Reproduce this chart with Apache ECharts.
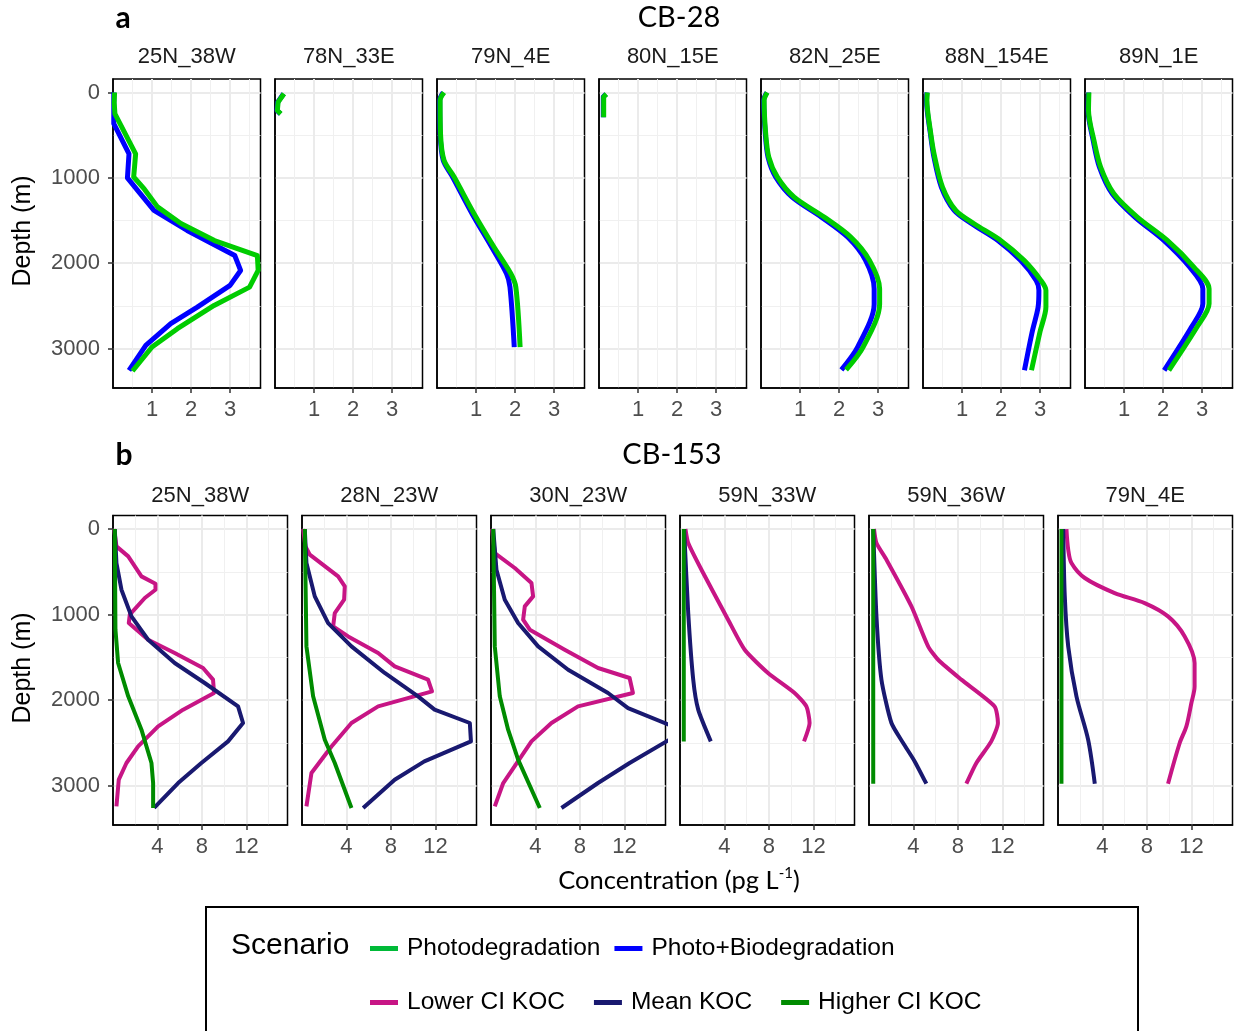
<!DOCTYPE html>
<html>
<head>
<meta charset="utf-8">
<script src="https://cdn.jsdelivr.net/npm/echarts@6/dist/echarts.min.js"></script>
<style>
  html, body { margin: 0; padding: 0; background: #fff; }
  #chart { width: 1236px; height: 1031px; }
</style>
</head>
<body>
<div id="chart"></div>
<script>
  // tick labels
  const ticksA = [1, 2, 3]
  const minorA = [0.5, 1.5, 2.5, 3.5]
  const ticksB = [4, 8, 12]
  const minorB = [2, 6, 10, 14]
  const depthTicks = [0, 1000, 2000, 3000]
  const depthMinor = [500, 1500, 2500]

  // CB-28 profiles, each point is [concentration pg/L, depth m]
  const cb28_25N38W_photo = [[0.04,0],[0.03,120],[0.05,250],[0.58,720],[0.53,990],[0.8,1130],[1.14,1340],[1.74,1535],[2.6,1735],[3.7,1910],[3.72,2085],[3.5,2280],[2.59,2495],[1.65,2767],[1.0,2982],[0.5,3263]]
  const cb28_25N38W_bio = [[0.02,0],[0.02,366],[0.41,718],[0.37,1000],[0.63,1147],[1.05,1382],[1.9,1616],[3.12,1910],[3.27,2085],[3.0,2260],[2.16,2514],[1.48,2709],[0.84,2963],[0.41,3255]]
  const cb28_78N33E_photo = [[0.23,15],[0.08,113],[0.06,211],[0.15,250]]
  const cb28_78N33E_bio = [[0.22,15],[0.07,113],[0.05,211],[0.14,250]]
  const cb28_79N4E_photo = [[0.18,0],[0.08,90],[0.09,480],[0.18,795],[0.44,990],[0.95,1420],[1.46,1810],[1.89,2120],[2.02,2280],[2.13,2982]]
  const cb28_79N4E_bio = [[0.16,0],[0.07,90],[0.08,480],[0.16,795],[0.4,990],[0.9,1420],[1.4,1810],[1.78,2120],[1.87,2280],[1.98,2982]]
  const cb28_80N15E_photo = [[0.19,20],[0.12,50],[0.12,290]]
  const cb28_80N15E_bio = [[0.18,20],[0.11,50],[0.11,290]]
  const cb28_82N25E_photo = [[0.16,0],[0.08,90],[0.12,480],[0.2,757],[0.42,992],[0.85,1226],[1.62,1460],[2.3,1694],[2.78,1967],[3.04,2300],[3.04,2480],[2.62,2980],[2.18,3250]]
  const cb28_82N25E_bio = [[0.15,0],[0.07,90],[0.11,480],[0.18,757],[0.38,992],[0.8,1226],[1.55,1460],[2.22,1694],[2.68,1967],[2.9,2300],[2.9,2480],[2.48,2980],[2.06,3250]]
  const cb28_88N154E_photo = [[0.11,0],[0.1,90],[0.2,484],[0.3,757],[0.5,1108],[0.84,1382],[1.31,1538],[1.99,1733],[2.59,1967],[3.02,2201],[3.15,2318],[3.15,2514],[3.0,2800],[2.78,3255]]
  const cb28_88N154E_bio = [[0.1,0],[0.09,90],[0.19,484],[0.28,757],[0.47,1108],[0.8,1382],[1.25,1538],[1.92,1733],[2.5,1967],[2.9,2201],[2.97,2318],[2.95,2514],[2.8,2800],[2.6,3255]]
  const cb28_89N1E_photo = [[0.1,0],[0.09,210],[0.23,562],[0.4,874],[0.74,1187],[1.34,1460],[2.11,1733],[2.79,2045],[3.18,2300],[3.18,2475],[2.87,2748],[2.15,3255]]
  const cb28_89N1E_bio = [[0.09,0],[0.08,210],[0.21,562],[0.37,874],[0.7,1187],[1.28,1460],[2.02,1733],[2.68,2045],[3.02,2300],[3.02,2475],[2.73,2748],[2.03,3255]]

  // CB-153 profiles, [concentration pg/L, depth m]
  const cb153_25N38W_lower = [[0.1,0],[0.31,203],[1.37,320],[2.56,554],[3.82,640],[3.82,710],[2.86,807],[1.51,1002],[1.42,1100],[3.16,1295],[5.55,1450],[8.1,1626],[9.0,1762],[9.09,1918],[6.31,2113],[4.06,2309],[2.26,2543],[1.21,2737],[0.52,2932],[0.31,3244]]
  const cb153_25N38W_mean = [[0.16,0],[0.31,398],[0.76,710],[1.66,1022],[3.16,1295],[5.55,1567],[8.25,1801],[11.25,2075],[11.7,2269],[10.35,2484],[7.95,2737],[5.86,2971],[3.7,3263]]
  const cb153_25N38W_higher = [[0.16,0],[0.22,1178],[0.46,1567],[1.37,1957],[2.56,2347],[3.46,2737],[3.61,2971],[3.61,3263]]
  const cb153_28N23W_lower = [[0.1,0],[0.31,203],[0.7,300],[3.25,554],[3.85,671],[3.79,827],[2.95,983],[2.8,1139],[4.15,1256],[6.85,1450],[8.34,1607],[11.34,1762],[11.7,1899],[6.85,2075],[4.45,2269],[2.65,2543],[0.85,2854],[0.4,3244]]
  const cb153_28N23W_mean = [[0.25,0],[0.4,398],[1.15,788],[2.35,1100],[4.45,1373],[7.44,1684],[10.44,1957],[11.93,2113],[15.1,2269],[15.2,2484],[11.01,2718],[8.34,2932],[5.5,3263]]
  const cb153_28N23W_higher = [[0.25,0],[0.4,1373],[1.0,1957],[2.05,2464],[2.95,2737],[4.45,3263]]
  const cb153_30N23W_lower = [[0.1,0],[0.34,281],[2.14,456],[3.64,632],[3.79,788],[3.04,905],[2.89,1061],[3.49,1178],[6.63,1412],[9.63,1626],[12.47,1743],[12.77,1918],[7.83,2075],[5.44,2269],[3.64,2484],[1.1,2971],[0.34,3244]]
  const cb153_30N23W_mean = [[0.2,0],[0.49,476],[1.24,827],[2.44,1100],[4.24,1373],[6.94,1646],[10.53,1918],[12.33,2094],[16.2,2300],[16.1,2460],[12.47,2737],[9.63,2971],[6.34,3263]]
  const cb153_30N23W_higher = [[0.2,0],[0.34,1373],[0.79,1957],[1.54,2347],[2.44,2698],[4.39,3263]]
  const cb153_59N33W_lower = [[0.49,0],[0.74,164],[1.93,476],[4.33,1061],[5.82,1412],[7.92,1684],[10.31,1918],[11.37,2075],[11.66,2269],[11.16,2484]]
  const cb153_59N33W_mean = [[0.37,0],[0.74,983],[1.19,1762],[1.64,2113],[2.77,2484]]
  const cb153_59N33W_higher = [[0.34,0],[0.34,2484]]
  const cb153_59N36W_lower = [[0.45,0],[0.67,164],[1.57,359],[3.82,905],[5.32,1373],[6.22,1529],[8.31,1762],[11.3,2075],[11.6,2269],[11.0,2484],[9.66,2737],[8.76,2979]]
  const cb153_59N36W_mean = [[0.38,0],[0.67,1022],[1.12,1762],[2.02,2269],[3.07,2503],[4.11,2718],[5.16,2979]]
  const cb153_59N36W_higher = [[0.38,0],[0.38,2979]]
  const cb153_79N4E_lower = [[0.76,0],[0.92,242],[1.21,398],[2.41,573],[5.1,749],[7.8,866],[9.9,1022],[11.4,1256],[12.29,1567],[12.29,1841],[12.0,2035],[11.55,2309],[10.95,2503],[9.9,2979]]
  const cb153_79N4E_mean = [[0.47,0],[0.61,788],[0.92,1373],[1.66,1957],[2.71,2464],[3.31,2979]]
  const cb153_79N4E_higher = [[0.31,0],[0.31,2979]]

  const panelsA = [
    { name: '25N_38W', photo: cb28_25N38W_photo, bio: cb28_25N38W_bio, smooth: false },
    { name: '78N_33E', photo: cb28_78N33E_photo, bio: cb28_78N33E_bio, smooth: false },
    { name: '79N_4E', photo: cb28_79N4E_photo, bio: cb28_79N4E_bio, smooth: 0.3 },
    { name: '80N_15E', photo: cb28_80N15E_photo, bio: cb28_80N15E_bio, smooth: false },
    { name: '82N_25E', photo: cb28_82N25E_photo, bio: cb28_82N25E_bio, smooth: 0.3 },
    { name: '88N_154E', photo: cb28_88N154E_photo, bio: cb28_88N154E_bio, smooth: 0.3 },
    { name: '89N_1E', photo: cb28_89N1E_photo, bio: cb28_89N1E_bio, smooth: 0.3 }
  ]
  const panelsB = [
    { name: '25N_38W', lower: cb153_25N38W_lower, mean: cb153_25N38W_mean, higher: cb153_25N38W_higher, smooth: false },
    { name: '28N_23W', lower: cb153_28N23W_lower, mean: cb153_28N23W_mean, higher: cb153_28N23W_higher, smooth: false },
    { name: '30N_23W', lower: cb153_30N23W_lower, mean: cb153_30N23W_mean, higher: cb153_30N23W_higher, smooth: false },
    { name: '59N_33W', lower: cb153_59N33W_lower, mean: cb153_59N33W_mean, higher: cb153_59N33W_higher, smooth: 0.2 },
    { name: '59N_36W', lower: cb153_59N36W_lower, mean: cb153_59N36W_mean, higher: cb153_59N36W_higher, smooth: 0.2 },
    { name: '79N_4E', lower: cb153_79N4E_lower, mean: cb153_79N4E_mean, higher: cb153_79N4E_higher, smooth: 0.3 }
  ]

  const FONT = '"Liberation Sans", Arial, Helvetica, sans-serif'
  const TITLE_FONT = 'Lato, "Open Sans", sans-serif'
  const COLORS = {
    photo: '#00CC00', bio: '#0000FF',
    lower: '#C71585', mean: '#191970', higher: '#008B00'
  }

  const grids = [], xAxes = [], yAxes = [], series = [], graphics = []

  function addPanel(left, top, width, height, xMax, xTicks, xMinor, showY) {
    const gi = grids.length
    grids.push({ left, top, width, height, show: true, borderColor: '#000', borderWidth: 1.5, backgroundColor: '#fff' })
    // minor grid
    xAxes.push({
      type: 'value', gridIndex: gi, position: 'top', min: 0, max: xMax,
      axisLine: { show: false, onZero: false }, axisLabel: { show: false },
      axisTick: { show: false, customValues: xMinor },
      splitLine: { show: true, lineStyle: { color: '#F0F0F0', width: 1 } }
    })
    yAxes.push({
      type: 'value', gridIndex: gi, position: 'right', inverse: true, min: -158, max: 3462,
      axisLine: { show: false, onZero: false }, axisLabel: { show: false },
      axisTick: { show: false, customValues: depthMinor },
      splitLine: { show: true, lineStyle: { color: '#F0F0F0', width: 1 } }
    })
    // major grid + ticks
    const xi = xAxes.length
    xAxes.push({
      type: 'value', gridIndex: gi, position: 'bottom', min: 0, max: xMax,
      axisLine: { show: true, onZero: false, lineStyle: { color: '#000', width: 1.5 } },
      axisTick: { show: true, inside: false, length: 5, customValues: xTicks, lineStyle: { color: '#333', width: 1.5 } },
      axisLabel: { customValues: xTicks, color: '#4D4D4D', fontSize: 22, fontFamily: FONT, margin: 11, formatter: v => String(v) },
      splitLine: { show: true, lineStyle: { color: '#EBEBEB', width: 2 } }
    })
    const yi = yAxes.length
    yAxes.push({
      type: 'value', gridIndex: gi, position: 'left', inverse: true, min: -158, max: 3462,
      axisLine: { show: true, onZero: false, lineStyle: { color: '#000', width: 1.5 } },
      axisTick: { show: showY, inside: false, length: 5, customValues: depthTicks, lineStyle: { color: '#333', width: 1.5 } },
      axisLabel: { show: showY, customValues: depthTicks, color: '#4D4D4D', fontSize: 22, fontFamily: FONT, margin: 13, formatter: v => String(v) },
      splitLine: { show: true, lineStyle: { color: '#EBEBEB', width: 2 } }
    })
    return { xi, yi }
  }

  function addLine(name, data, color, width, ax, smooth) {
    series.push({
      name, type: 'line', data, xAxisIndex: ax.xi, yAxisIndex: ax.yi,
      color, symbol: 'none', showSymbol: false, smooth, clip: true,
      lineStyle: { color, width, cap: 'butt', join: 'round' },
      animation: false, silent: true
    })
  }

  function addText(text, x, y, style, extra) {
    graphics.push(Object.assign({
      type: 'text', x, y,
      style: Object.assign({ text, align: 'center', verticalAlign: 'middle', fill: '#000' }, style)
    }, extra || {}))
  }

  // row a
  panelsA.forEach((p, i) => {
    const left = 113 + 162 * i
    const ax = addPanel(left, 79, 147.5, 309, 3.78, ticksA, minorA, i === 0)
    addLine('Photo+Biodegradation', p.bio, COLORS.bio, 5, ax, p.smooth)
    addLine('Photodegradation', p.photo, COLORS.photo, 5, ax, p.smooth)
    addText(p.name, left + 73.75, 57, { fontSize: 22, fontFamily: FONT, fill: '#1A1A1A' })
  })
  // row b
  panelsB.forEach((p, i) => {
    const left = 113 + 189 * i
    const ax = addPanel(left, 515.5, 174.5, 309.5, 15.7, ticksB, minorB, i === 0)
    addLine('Lower CI KOC', p.lower, COLORS.lower, 4, ax, p.smooth)
    addLine('Mean KOC', p.mean, COLORS.mean, 4, ax, p.smooth)
    addLine('Higher CI KOC', p.higher, COLORS.higher, 4, ax, p.smooth)
    addText(p.name, left + 87.25, 495.5, { fontSize: 22, fontFamily: FONT, fill: '#1A1A1A' })
  })

  addText('a', 123, 18, { fontSize: 30, fontWeight: 'bold', fontFamily: TITLE_FONT })
  addText('CB-28', 679, 18, { fontSize: 29, fontFamily: TITLE_FONT })
  addText('b', 124, 455, { fontSize: 30, fontWeight: 'bold', fontFamily: TITLE_FONT })
  addText('CB-153', 672, 455, { fontSize: 29, fontFamily: TITLE_FONT })
  addText('Depth (m)', 23, 231, { fontSize: 25, fontFamily: FONT }, { rotation: Math.PI / 2 })
  addText('Depth (m)', 23, 668, { fontSize: 25, fontFamily: FONT }, { rotation: Math.PI / 2 })
  addText('{a|Concentration (pg L}{s|-1}{a|)}', 679, 881, {
    rich: {
      a: { fontSize: 25.5, fontFamily: TITLE_FONT, lineHeight: 30, fill: '#000' },
      s: { fontSize: 15, fontFamily: TITLE_FONT, verticalAlign: 'top', lineHeight: 16, fill: '#000' }
    }
  })

  // legend frame
  graphics.push({
    type: 'rect', z: -10,
    shape: { x: 206, y: 907, width: 932, height: 200 },
    style: { fill: '#fff', stroke: '#000', lineWidth: 2 }
  })
  graphics.push({
    type: 'text', x: 231, y: 946,
    style: { text: 'Scenario', align: 'left', verticalAlign: 'middle', fontSize: 30, fontFamily: FONT, fill: '#000' }
  })

  const legendText = { fontSize: 24.5, fontFamily: FONT, color: '#000', padding: [0, 0, 0, 4] }

  const chart = echarts.init(document.getElementById('chart'), null, { renderer: 'canvas' })
  chart.setOption({
    animation: false,
    backgroundColor: '#fff',
    grid: grids,
    xAxis: xAxes,
    yAxis: yAxes,
    series,
    graphic: { elements: graphics },
    legend: [
      {
        left: 370, top: 936, padding: 0, itemGap: 14, itemWidth: 28, itemHeight: 5,
        icon: 'rect', selectedMode: false, textStyle: legendText,
        data: [
          { name: 'Photodegradation', itemStyle: { color: '#00BA38' } },
          { name: 'Photo+Biodegradation', itemStyle: { color: '#0000FF' } }
        ]
      },
      {
        left: 370, top: 990, padding: 0, itemGap: 29, itemWidth: 28, itemHeight: 5,
        icon: 'rect', selectedMode: false, textStyle: legendText,
        data: [
          { name: 'Lower CI KOC', itemStyle: { color: '#C71585' } },
          { name: 'Mean KOC', itemStyle: { color: '#191970' } },
          { name: 'Higher CI KOC', itemStyle: { color: '#008B00' } }
        ]
      }
    ]
  })
  window.addEventListener('resize', chart.resize)
</script>
</body>
</html>
